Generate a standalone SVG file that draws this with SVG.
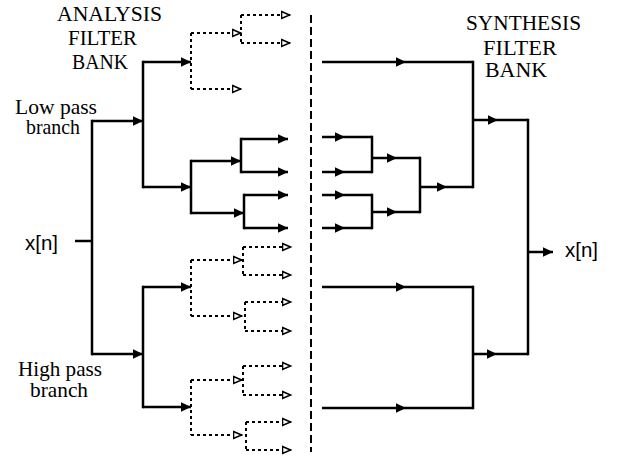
<svg xmlns="http://www.w3.org/2000/svg" width="617" height="457" viewBox="0 0 617 457">
<style>
  .s{fill:none;stroke:#000;stroke-width:2.5}
  .v{fill:none;stroke:#000;stroke-width:2.5;stroke-linecap:square}
  .d{fill:none;stroke:#000;stroke-width:2;stroke-dasharray:3 3}
  .sep{fill:none;stroke:#000;stroke-width:2;stroke-dasharray:8 4}
  .a{marker-end:url(#ah)}
  .m{marker-mid:url(#ah)}
  .o{marker-end:url(#oh)}
  .serif{font-family:"Liberation Serif","Times New Roman",serif;fill:#000}
  .sans{font-family:"Liberation Sans",Arial,sans-serif;fill:#000}
</style>
<defs>
  <marker id="ah" markerUnits="userSpaceOnUse" markerWidth="12" markerHeight="11" refX="10.5" refY="5.5" orient="auto">
    <path d="M0,0.5 L10.5,5.5 L0,10.5 Z" fill="#000" stroke="none"/>
  </marker>
  <marker id="oh" markerUnits="userSpaceOnUse" markerWidth="11" markerHeight="10" refX="9.5" refY="5" orient="auto">
    <path d="M1,1.5 L9,5 L1,8.5 Z" fill="#fff" stroke="#000" stroke-width="1.6" stroke-dasharray="none"/>
  </marker>
</defs>
<rect width="617" height="457" fill="#fff"/>

<g id="connectors">
  <!-- analysis, solid -->
  <path class="s" d="M75,241 H92"/>
  <path class="v" d="M92,121 V354"/>
  <path class="s a" d="M92,121 H143"/>
  <path class="s a" d="M92,354 H143"/>
  <path class="v" d="M143,62 V187"/>
  <path class="s a" d="M143,62 H191"/>
  <path class="s a" d="M143,187 H191"/>
  <path class="v" d="M191,161 V213"/>
  <path class="s a" d="M191,161 H241"/>
  <path class="s a" d="M191,213 H244"/>
  <path class="v" d="M241,139 V172"/>
  <path class="s a" d="M241,139 H288"/>
  <path class="s a" d="M241,172 H288"/>
  <path class="v" d="M244,195 V228"/>
  <path class="s a" d="M244,195 H288"/>
  <path class="s a" d="M244,228 H288"/>
  <path class="v" d="M143,287 V407"/>
  <path class="s a" d="M143,287 H191"/>
  <path class="s a" d="M143,407 H191"/>

  <!-- analysis, dotted -->
  <path class="d" d="M191,33 V89"/>
  <path class="d o" d="M191,33 H241"/>
  <path class="d o" d="M191,89 H241"/>
  <path class="d" d="M241,15 V43"/>
  <path class="d o" d="M241,15 H290"/>
  <path class="d o" d="M241,43 H290"/>

  <path class="d" d="M191,260 V316"/>
  <path class="d o" d="M191,260 H242"/>
  <path class="d o" d="M191,316 H242"/>
  <path class="d" d="M243,247 V275"/>
  <path class="d o" d="M243,247 H291"/>
  <path class="d o" d="M243,275 H291"/>
  <path class="d" d="M245,302 V331"/>
  <path class="d o" d="M245,302 H291"/>
  <path class="d o" d="M245,331 H291"/>

  <path class="d" d="M191,380 V435"/>
  <path class="d o" d="M191,380 H242"/>
  <path class="d o" d="M191,435 H242"/>
  <path class="d" d="M243,366 V395"/>
  <path class="d o" d="M243,366 H291"/>
  <path class="d o" d="M243,395 H291"/>
  <path class="d" d="M246,422 V450"/>
  <path class="d o" d="M246,422 H291"/>
  <path class="d o" d="M246,450 H291"/>

  <!-- separator -->
  <path class="sep" d="M311,15 V452"/>

  <!-- synthesis -->
  <path class="s m" d="M322,62 L406,62 L473,62"/>
  <path class="v" d="M473,62 V187"/>
  <path class="s m" d="M473,120 L498,120 L528,120"/>
  <path class="v" d="M528,120 V354"/>
  <path class="s a" d="M528,252 H553"/>

  <path class="s m" d="M322,137 L345,137 L372,137"/>
  <path class="s m" d="M322,172 L345,172 L372,172"/>
  <path class="v" d="M372,137 V172"/>
  <path class="s m" d="M372,158 L397,158 L420,158"/>
  <path class="s m" d="M322,195 L345,195 L372,195"/>
  <path class="s m" d="M322,228 L345,228 L372,228"/>
  <path class="v" d="M372,195 V228"/>
  <path class="s m" d="M372,212 L397,212 L420,212"/>
  <path class="v" d="M420,158 V212"/>
  <path class="s m" d="M420,187 L447,187 L473,187"/>

  <path class="s m" d="M322,287 L406,287 L473,287"/>
  <path class="s m" d="M322,408 L406,408 L473,408"/>
  <path class="v" d="M473,287 V408"/>
  <path class="s m" d="M473,354 L497,354 L528,354"/>
</g>

<g id="analysis-title" class="serif" font-size="21">
  <text x="57" y="21" textLength="105" lengthAdjust="spacingAndGlyphs">ANALYSIS</text>
  <text x="68" y="45" textLength="69" lengthAdjust="spacingAndGlyphs">FILTER</text>
  <text x="72" y="69" textLength="56" lengthAdjust="spacingAndGlyphs">BANK</text>
</g>
<g id="synthesis-title" class="serif" font-size="21">
  <text x="466" y="30" textLength="115" lengthAdjust="spacingAndGlyphs">SYNTHESIS</text>
  <text x="483" y="55" textLength="74" lengthAdjust="spacingAndGlyphs">FILTER</text>
  <text x="485" y="77" textLength="62" lengthAdjust="spacingAndGlyphs">BANK</text>
</g>
<g id="low-pass-label" class="serif" font-size="21">
  <text x="15" y="114" textLength="82" lengthAdjust="spacingAndGlyphs">Low pass</text>
  <text x="26" y="134" textLength="54" lengthAdjust="spacingAndGlyphs">branch</text>
</g>
<g id="high-pass-label" class="serif" font-size="21">
  <text x="18" y="376" textLength="84" lengthAdjust="spacingAndGlyphs">High pass</text>
  <text x="30" y="397" textLength="58" lengthAdjust="spacingAndGlyphs">branch</text>
</g>
<g id="input" class="sans" font-size="20">
  <text x="25" y="250" textLength="33" lengthAdjust="spacingAndGlyphs">x[n]</text>
</g>
<g id="output" class="sans" font-size="20">
  <text x="565" y="257" textLength="33" lengthAdjust="spacingAndGlyphs">x[n]</text>
</g>
</svg>
